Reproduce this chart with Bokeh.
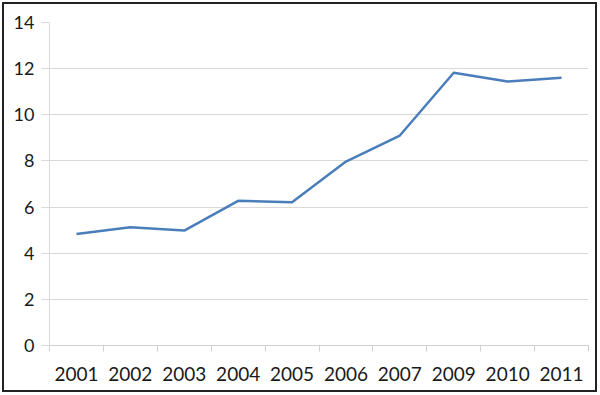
from bokeh.plotting import figure
from bokeh.models import FixedTicker, Range1d
from bokeh.embed import file_html
from bokeh.resources import INLINE

years = ["2001", "2002", "2003", "2004", "2005", "2006", "2007", "2009", "2010", "2011"]
values = [4.83, 5.13, 4.98, 6.27, 6.21, 7.97, 9.1, 11.82, 11.44, 11.6]
y_ticks = [0, 2, 4, 6, 8, 10, 12, 14]

xs = [i + 0.5 for i in range(len(years))]

W, H = 599, 394
p = figure(width=W, height=H, output_backend="svg", toolbar_location=None,
           x_range=Range1d(0, len(years)), y_range=Range1d(0, 14),
           min_border_left=49, min_border_right=11, min_border_top=22, min_border_bottom=49)
p.styles = {"outline": "2px solid #222222", "outline-offset": "-4px", "background-color": "white"}
p.outline_line_color = None
p.background_fill_color = "white"
p.border_fill_color = None

p.line(xs, values, line_color="#4a7ebb", line_width=2.5)

# x axis
xt = FixedTicker(ticks=xs, minor_ticks=list(range(len(years) + 1)))
p.xaxis.ticker = xt
p.xaxis.major_label_overrides = {x: y for x, y in zip(xs, years)}
p.xaxis.major_tick_line_color = None
p.xaxis.minor_tick_line_color = "#d0d0d0"
p.xaxis.minor_tick_out = 6
p.xaxis.minor_tick_in = 0
p.xaxis.axis_line_color = "#d0d0d0"
p.xaxis.major_label_standoff = 15
p.xaxis.major_label_text_font = "Lato"
p.xaxis.major_label_text_font_size = "19px"
p.xaxis.major_label_text_color = "#1a1a1a"
p.xgrid.grid_line_color = None

# y axis
p.yaxis.ticker = FixedTicker(ticks=y_ticks)
p.yaxis.minor_tick_line_color = None
p.yaxis.major_tick_line_color = "#d9d9d9"
p.yaxis.major_tick_out = 8
p.yaxis.major_tick_in = 0
p.yaxis.axis_line_color = "#d9d9d9"
p.yaxis.major_label_standoff = 7
p.yaxis.major_label_text_font = "Lato"
p.yaxis.major_label_text_font_size = "18px"
p.yaxis.major_label_text_color = "#1a1a1a"
p.ygrid.grid_line_color = "#d9d9d9"
p.ygrid.grid_line_width = 1

open("out.html", "w").write(file_html(p, INLINE))
